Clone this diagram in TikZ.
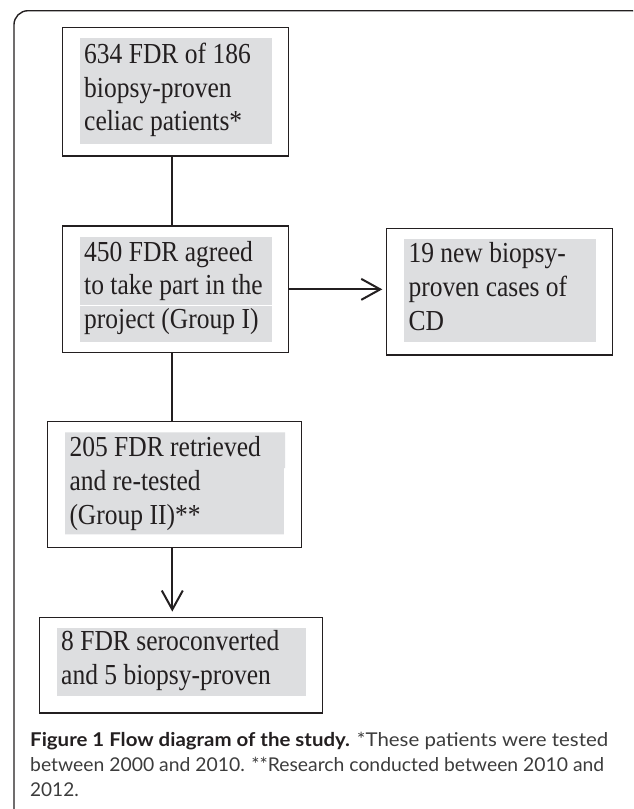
\documentclass[tikz,border=0pt]{standalone}
\usepackage{fontspec}
\setmainfont{Liberation Serif}
\newfontfamily\capfont{Lato}
\usetikzlibrary{arrows.meta}
\definecolor{boxgray}{RGB}{221,222,224}
\definecolor{ink}{RGB}{35,31,32}
\definecolor{capgray}{RGB}{60,60,60}
\newcommand{\sq}[1]{\scalebox{0.88}[1]{#1}}
\begin{document}
\begin{tikzpicture}[x=1pt,y=-1pt,
  boxframe/.style={draw=ink, line width=1.4pt, fill=white, inner sep=0pt},
  boxtext/.style={anchor=base west, inner sep=0pt, text=ink, font=\fontsize{29}{33.8}\selectfont},
  captext/.style={anchor=base west, inner sep=0pt, text=capgray, font=\capfont\fontsize{19}{25}\selectfont},
  conn/.style={draw=ink, line width=2pt},
  arr/.style={conn, -{Straight Barb[length=19pt,width=21pt]}}]
\useasboundingbox (0,0) rectangle (633,809);
\begin{scope}
\clip (0,0) rectangle (633,809);
\draw[draw=ink, line width=1.4pt, rounded corners=14pt] (14,840) -- (14,10.7) -- (646,10.7) -- (646,840);
\end{scope}
\coordinate (cx) at (172.3,0);
% boxes
\node[boxframe, minimum width=226pt, minimum height=128.7pt] (b1) at (175.7,91.65) {};
\node[boxframe, minimum width=226pt, minimum height=126.7pt] (b2) at (175.7,289.35) {};
\node[boxframe, minimum width=225.6pt, minimum height=126.7pt] (b3) at (499.5,291.65) {};
\node[boxframe, minimum width=253.6pt, minimum height=126pt] (b4) at (174.5,484.7) {};
\node[boxframe, minimum width=283.4pt, minimum height=95.7pt] (b5) at (181,665.15) {};
% gray fills
\fill[boxgray] (80,37.7) rectangle (271.7,144.3);
\fill[boxgray] (80,237.3) rectangle (271.7,341.7);
\draw[white, line width=0.6pt] (80,305.7) -- (271.7,305.7);
\fill[boxgray] (404,239) rectangle (595.7,341.7);
\fill[boxgray] (65,432.3) rectangle (285,468) (65,468) rectangle (283.8,534.3);
\fill[boxgray] (56.7,628.3) rectangle (305.7,696);
% texts
\node[boxtext] (t1) at (84,63.3) {\begin{tabular}[t]{@{}l@{}}\sq{634 FDR of 186}\\ \sq{biopsy-proven}\\ \sq{celiac patients*}\end{tabular}};
\node[boxtext] (t2) at (84,261) {\begin{tabular}[t]{@{}l@{}}\sq{450 FDR agreed}\\ \sq{to take part in the}\\ \sq{project (Group I)}\end{tabular}};
\node[boxtext] (t3) at (408.3,262.7) {\begin{tabular}[t]{@{}l@{}}\sq{19 new biopsy-}\\ \sq{proven cases of}\\ \sq{CD}\end{tabular}};
\node[boxtext] (t4) at (69.3,456.7) {\begin{tabular}[t]{@{}l@{}}\sq{205 FDR retrieved}\\ \sq{and re-tested}\\ \sq{(Group II)**}\end{tabular}};
\node[boxtext] (t5) at (61,650.7) {\begin{tabular}[t]{@{}l@{}}\sq{8 FDR seroconverted}\\ \sq{and 5 biopsy-proven}\end{tabular}};
% connectors
\draw[conn] (b1.south -| cx) -- (b2.north -| cx);
\draw[conn] (b2.south -| cx) -- (b4.north -| cx);
\draw[arr, shorten >=3.7pt] (b2.east) -- (b3.west |- b2.east);
\draw[arr, shorten >=5pt] (b4.south -| cx) -- (b5.north -| cx);
% caption
\node[captext] (c1) at (30,746) {\resizebox{578pt}{\height}{\textcolor{ink}{\textbf{Figure 1 Flow diagram of the study.}} *These patients were tested}};
\node[captext] (c2) at (30,771) {\resizebox{574pt}{\height}{between 2000 and 2010. **Research conducted between 2010 and}};
\node[captext] (c3) at (30,796.7) {2012.};
\end{tikzpicture}
\end{document}
